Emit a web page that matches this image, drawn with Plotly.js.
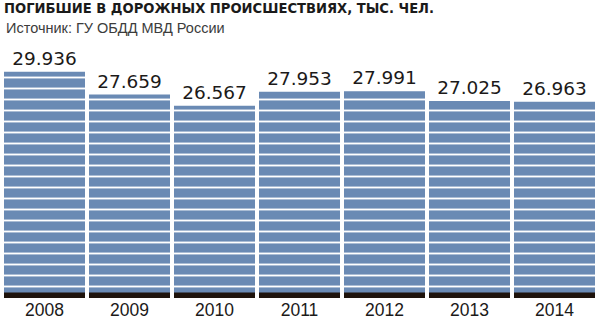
<!DOCTYPE html>
<html>
<head>
<meta charset="utf-8">
<script src="https://cdn.plot.ly/plotly-3.0.1.min.js"></script>
<style>
  html, body { margin: 0; padding: 0; background: #ffffff; }
  #chart { width: 600px; height: 318px; }
</style>
</head>
<body>
<div id="chart"></div>
<script>
// Road traffic deaths in Russia, thousand people
const years = ['2008', '2009', '2010', '2011', '2012', '2013', '2014'];
const deaths = [29.936, 27.659, 26.567, 27.953, 27.991, 27.025, 26.963];
const valueLabels = ['29.936', '27.659', '26.567', '27.953', '27.991', '27.025', '26.963'];

const titleText = 'ПОГИБШИЕ В ДОРОЖНЫХ ПРОИСШЕСТВИЯХ, ТЫС. ЧЕЛ.';
const sourceText = 'Источник: ГУ ОБДД МВД России';

const BLUE = '#6a8ab4';
const DARK = '#1e130c';
const AXIS_MIN = 7.5;
const AXIS_MAX = 30.99;
const FOOT = 0.55; // thickness of the dark foot strip, in axis units

const bars = {
  type: 'bar',
  x: years,
  y: deaths,
  text: valueLabels,
  textposition: 'outside',
  constraintext: 'none',
  cliponaxis: false,
  textfont: { family: 'DejaVu Sans', size: 18.5, color: '#1c1a19' },
  marker: {
    color: BLUE,
    line: { width: 0 },
    pattern: { shape: '-', size: 11, solidity: 0.17, fgcolor: '#ffffff', bgcolor: BLUE, fgopacity: 1, fillmode: 'replace' }
  },
  hoverinfo: 'skip'
};

const foot = {
  type: 'bar',
  x: years,
  y: years.map(() => FOOT),
  base: AXIS_MIN,
  marker: { color: DARK, line: { width: 0 } },
  hoverinfo: 'skip'
};

const layout = {
  width: 600,
  height: 318,
  margin: { l: 2, r: 3, t: 61, b: 20 },
  paper_bgcolor: '#ffffff',
  plot_bgcolor: '#ffffff',
  showlegend: false,
  barmode: 'overlay',
  bargap: 0.047,
  title: {
    text: titleText,
    font: { family: 'DejaVu Sans Condensed, Liberation Sans', size: 14.6, color: '#1a1a1a', weight: 'bold' },
    x: 4 / 600, xanchor: 'left', xref: 'container',
    y: 1 - 7.5 / 318, yanchor: 'middle', yref: 'container',
    pad: { t: 0, b: 0 }
  },
  annotations: [{
    text: sourceText,
    xref: 'paper', yref: 'paper',
    x: 0, y: 1, xshift: 2, yshift: 33,
    xanchor: 'left', yanchor: 'middle',
    showarrow: false,
    font: { family: 'Liberation Sans', size: 14.5, color: '#3c3c3c' }
  }],
  xaxis: {
    type: 'category',
    showgrid: false, zeroline: false, showline: false,
    ticks: '',
    ticklabelstandoff: -1,
    tickfont: { family: 'Liberation Sans', size: 17.5, color: '#1c1a19' },
    fixedrange: true
  },
  yaxis: {
    range: [AXIS_MIN, AXIS_MAX],
    visible: false,
    showgrid: false, zeroline: false,
    fixedrange: true
  }
};

Plotly.newPlot('chart', [bars, foot], layout, { displayModeBar: false, staticPlot: true });
</script>
</body>
</html>
